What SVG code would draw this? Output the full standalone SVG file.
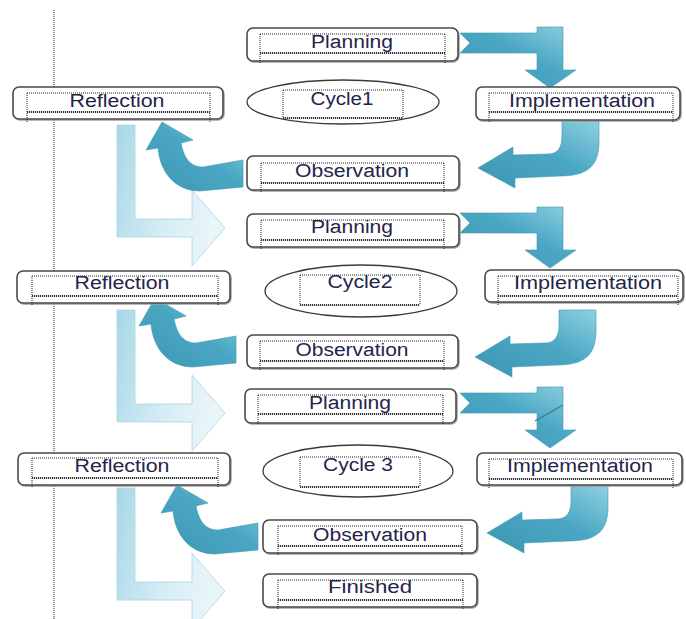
<svg xmlns="http://www.w3.org/2000/svg" width="686" height="619" viewBox="0 0 686 619">
<style>
.box{fill:#fff;stroke:#4a4a4a;stroke-width:1.6}
.shadow{fill:none;stroke:#a0a0a0;stroke-width:1.5}
.ell{fill:#fff;stroke:#3a3a3a;stroke-width:1.3}
.dot{fill:none;stroke:#222;stroke-width:1;stroke-dasharray:1 1}
.wave{fill:none;stroke:#333;stroke-width:1.8;stroke-dasharray:1.2 0.8}
.lbl{font-family:"Liberation Sans",Arial,sans-serif;font-size:18px;fill:#24244a;text-anchor:middle}
.teal{fill:url(#gTeal);stroke:#3f98b4;stroke-width:0.6}
.light{fill:url(#gLight);stroke:#a9d6e4;stroke-width:0.8}
</style>
<defs>
<linearGradient id="gTeal" x1="1" y1="0" x2="0" y2="1">
<stop offset="0" stop-color="#8fd0e1"/>
<stop offset="0.45" stop-color="#4aa7c3"/>
<stop offset="1" stop-color="#3d96b3"/>
</linearGradient>
<linearGradient id="gLight" x1="0" y1="0" x2="1" y2="0.3">
<stop offset="0" stop-color="#a8d7e6"/>
<stop offset="0.6" stop-color="#d6edf5"/>
<stop offset="1" stop-color="#e8f5f9"/>
</linearGradient>
<path id="arrA" d="M460,33 L537,33 L537,27 L563,27 L563,70 L576,70 L550,88 L525,70 L537,70 L537,53 L460,53 L470,43 Z"/>
<path id="arrB" d="M562,121 L599,121 L599,142 C599,168 585,176 560,176 L515,178 L515,188 L478,168 L513,147 L513,155 L548,154 C558,154 562,147 562,136 Z"/>
<path id="arrC" d="M162,122 L193,140 L181,143 C184,158 190,167 203,167 L243,160 L243,187 L200,191 C175,191 160,172 158,148 L146,150 Z"/>
<path id="arrD" d="M117,125 L135,125 L135,219 L192,219 L192,190 L225,228 L192,266 L192,237 L117,237 Z"/>
</defs>
<rect width="686" height="619" fill="#fff"/>
<line x1="54" y1="10" x2="54" y2="619" class="dot"/>
<g id="connectors">
<use href="#arrD" class="light"/>
<use href="#arrD" class="light" transform="translate(0,185)"/>
<use href="#arrD" class="light" transform="translate(0,363)"/>
<use href="#arrA" class="teal"/>
<use href="#arrA" class="teal" transform="translate(0,180)"/>
<use href="#arrA" class="teal" transform="translate(0,360)"/>
<use href="#arrB" class="teal"/>
<use href="#arrB" class="teal" transform="translate(-3,189)"/>
<use href="#arrB" class="teal" transform="translate(9,365)"/>
<use href="#arrC" class="teal"/>
<use href="#arrC" class="teal" transform="translate(-7,176)"/>
<use href="#arrC" class="teal" transform="translate(15,363)"/>
<line x1="535" y1="421" x2="563" y2="405" stroke="#2f7f99" stroke-width="1.2"/>
</g>
<g id="planning1">
<rect x="248" y="29" width="211" height="33" rx="6" class="shadow"/>
<rect x="247" y="28" width="211" height="33" rx="6" class="box"/>
<path d="M260,34 H445 M260,34 V64 M445,34 V64" class="dot"/>
<path d="M260,53 H445" class="wave"/>
<text x="352" y="48" class="lbl" textLength="82" lengthAdjust="spacingAndGlyphs">Planning</text>
</g>
<g id="cycle1">
<ellipse cx="343" cy="102" rx="96" ry="22" class="ell"/>
<path d="M283,90 H403 V118 M283,90 V118" class="dot"/>
<path d="M283,118 H403" class="wave"/>
<text x="342" y="105" class="lbl" textLength="63" lengthAdjust="spacingAndGlyphs">Cycle1</text>
</g>
<g id="implementation1">
<rect x="477" y="88" width="204" height="33" rx="6" class="shadow"/>
<rect x="476" y="87" width="204" height="33" rx="6" class="box"/>
<path d="M489,93 H673 M489,93 V123 M673,93 V123" class="dot"/>
<path d="M489,112 H673" class="wave"/>
<text x="582" y="107" class="lbl" textLength="146" lengthAdjust="spacingAndGlyphs">Implementation</text>
</g>
<g id="reflection1">
<rect x="14" y="88" width="210" height="32" rx="6" class="shadow"/>
<rect x="13" y="87" width="210" height="32" rx="6" class="box"/>
<path d="M27,93 H210 M27,93 V123 M210,93 V123" class="dot"/>
<path d="M27,112 H210" class="wave"/>
<text x="117" y="107" class="lbl" textLength="95" lengthAdjust="spacingAndGlyphs">Reflection</text>
</g>
<g id="observation1">
<rect x="248" y="157" width="212" height="34" rx="6" class="shadow"/>
<rect x="247" y="156" width="212" height="34" rx="6" class="box"/>
<path d="M261,163 H444 M261,163 V193 M444,163 V193" class="dot"/>
<path d="M261,183 H444" class="wave"/>
<text x="352" y="177" class="lbl" textLength="114" lengthAdjust="spacingAndGlyphs">Observation</text>
</g>
<g id="planning2">
<rect x="248" y="215" width="212" height="33" rx="6" class="shadow"/>
<rect x="247" y="214" width="212" height="33" rx="6" class="box"/>
<path d="M261,220 H444 M261,220 V250 M444,220 V250" class="dot"/>
<path d="M261,240 H444" class="wave"/>
<text x="352" y="233" class="lbl" textLength="82" lengthAdjust="spacingAndGlyphs">Planning</text>
</g>
<g id="reflection2">
<rect x="18" y="272" width="213" height="32" rx="6" class="shadow"/>
<rect x="17" y="271" width="213" height="32" rx="6" class="box"/>
<path d="M32,276 H218 M32,276 V306 M218,276 V306" class="dot"/>
<path d="M32,296 H218" class="wave"/>
<text x="122" y="289" class="lbl" textLength="95" lengthAdjust="spacingAndGlyphs">Reflection</text>
</g>
<g id="cycle2">
<ellipse cx="361" cy="291" rx="96" ry="26" class="ell"/>
<path d="M300,275 H420 V305 M300,275 V305" class="dot"/>
<path d="M300,305 H420" class="wave"/>
<text x="360" y="288" class="lbl" textLength="65" lengthAdjust="spacingAndGlyphs">Cycle2</text>
</g>
<g id="implementation2">
<rect x="486" y="271" width="198" height="32" rx="6" class="shadow"/>
<rect x="485" y="270" width="198" height="32" rx="6" class="box"/>
<path d="M498,276 H678 M498,276 V306 M678,276 V306" class="dot"/>
<path d="M498,296 H678" class="wave"/>
<text x="588" y="289" class="lbl" textLength="148" lengthAdjust="spacingAndGlyphs">Implementation</text>
</g>
<g id="observation2">
<rect x="248" y="336" width="211" height="33" rx="6" class="shadow"/>
<rect x="247" y="335" width="211" height="33" rx="6" class="box"/>
<path d="M260,341 H444 M260,341 V371 M444,341 V371" class="dot"/>
<path d="M260,361 H444" class="wave"/>
<text x="352" y="356" class="lbl" textLength="113" lengthAdjust="spacingAndGlyphs">Observation</text>
</g>
<g id="planning3">
<rect x="246" y="390" width="211" height="34" rx="6" class="shadow"/>
<rect x="245" y="389" width="211" height="34" rx="6" class="box"/>
<path d="M258,395 H443 M258,395 V425 M443,395 V425" class="dot"/>
<path d="M258,414 H443" class="wave"/>
<text x="350" y="409" class="lbl" textLength="82" lengthAdjust="spacingAndGlyphs">Planning</text>
</g>
<g id="cycle3">
<ellipse cx="358" cy="471" rx="95" ry="26" class="ell"/>
<path d="M300,457 H420 V487 M300,457 V487" class="dot"/>
<path d="M300,487 H420" class="wave"/>
<text x="358" y="471" class="lbl" textLength="70" lengthAdjust="spacingAndGlyphs">Cycle 3</text>
</g>
<g id="implementation3">
<rect x="478" y="454" width="205" height="32" rx="6" class="shadow"/>
<rect x="477" y="453" width="205" height="32" rx="6" class="box"/>
<path d="M489,459 H673 M489,459 V489 M673,459 V489" class="dot"/>
<path d="M489,479 H673" class="wave"/>
<text x="580" y="472" class="lbl" textLength="146" lengthAdjust="spacingAndGlyphs">Implementation</text>
</g>
<g id="reflection3">
<rect x="19" y="454" width="212" height="32" rx="6" class="shadow"/>
<rect x="18" y="453" width="212" height="32" rx="6" class="box"/>
<path d="M32,458 H218 M32,458 V488 M218,458 V488" class="dot"/>
<path d="M32,478 H218" class="wave"/>
<text x="122" y="472" class="lbl" textLength="95" lengthAdjust="spacingAndGlyphs">Reflection</text>
</g>
<g id="observation3">
<rect x="264" y="521" width="214" height="33" rx="6" class="shadow"/>
<rect x="263" y="520" width="214" height="33" rx="6" class="box"/>
<path d="M278,526 H462 M278,526 V556 M462,526 V556" class="dot"/>
<path d="M278,546 H462" class="wave"/>
<text x="370" y="541" class="lbl" textLength="114" lengthAdjust="spacingAndGlyphs">Observation</text>
</g>
<g id="finished">
<rect x="264" y="575" width="214" height="33" rx="6" class="shadow"/>
<rect x="263" y="574" width="214" height="33" rx="6" class="box"/>
<path d="M278,580 H463 M278,580 V610 M463,580 V610" class="dot"/>
<path d="M278,600 H463" class="wave"/>
<text x="370" y="593" class="lbl" textLength="84" lengthAdjust="spacingAndGlyphs">Finished</text>
</g>
</svg>
